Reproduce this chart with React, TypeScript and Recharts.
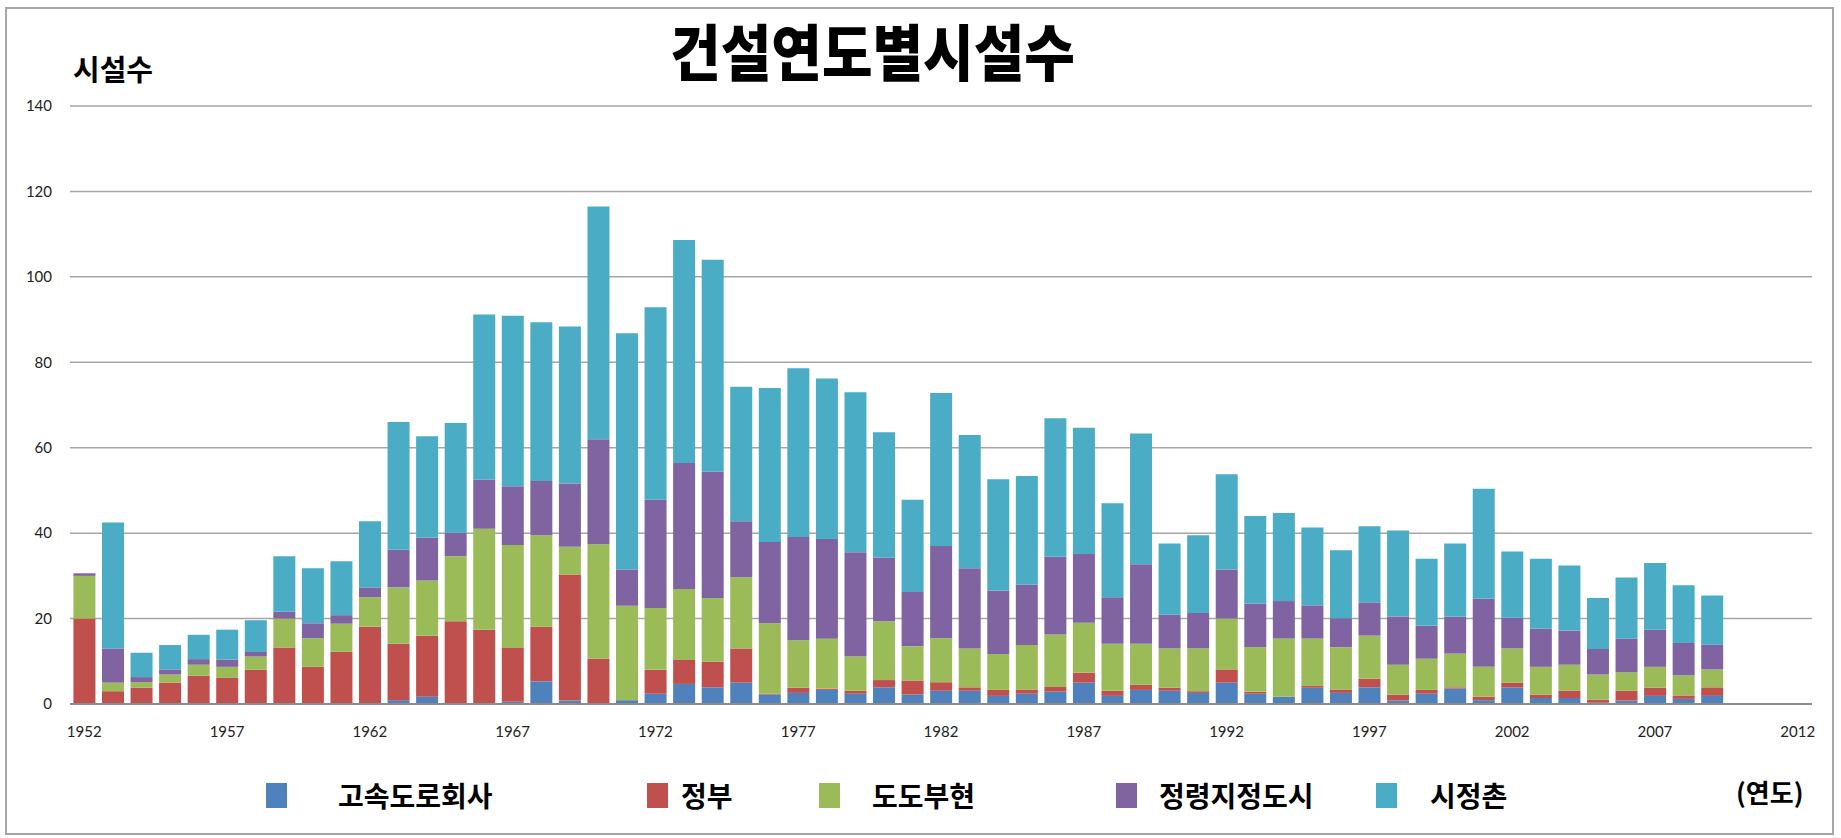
import React from "react";
import { BarChart, Bar, XAxis, YAxis, CartesianGrid } from "recharts";

const years = [
  "1952", "1953", "1954", "1955", "1956", "1957", "1958", "1959", "1960", "1961",
  "1962", "1963", "1964", "1965", "1966", "1967", "1968", "1969", "1970", "1971",
  "1972", "1973", "1974", "1975", "1976", "1977", "1978", "1979", "1980", "1981",
  "1982", "1983", "1984", "1985", "1986", "1987", "1988", "1989", "1990", "1991",
  "1992", "1993", "1994", "1995", "1996", "1997", "1998", "1999", "2000", "2001",
  "2002", "2003", "2004", "2005", "2006", "2007", "2008", "2009", "2010", "2011",
  "2012",
];

// 고속도로회사
const expressway = [
  0, 0, 0, 0, 0, 0, 0, 0, 0, 0,
  0, 0.9, 1.7, 0, 0, 0.5, 5.3, 0.8, 0, 0.9,
  2.4, 4.7, 3.9, 5, 2.2, 2.6, 3.3, 2.4, 3.9, 2.2,
  3.1, 3.1, 1.9, 2.4, 2.9, 5, 1.9, 3.3, 3.1, 2.6,
  5, 2.4, 1.7, 3.8, 2.6, 3.9, 0.8, 2.4, 3.6, 0.9,
  3.9, 1.4, 1.4, 0.3, 0.8, 1.9, 1.2, 1.9,
];
// 정부
const government = [
  20, 3, 3.8, 5, 6.6, 6.1, 8, 13.2, 8.7, 12.2,
  18.1, 13.2, 14.3, 19.4, 17.4, 12.6, 12.8, 29.5, 10.6, 0,
  5.6, 5.6, 6, 8, 0.2, 1.2, 0.3, 0.7, 1.7, 3.3,
  2, 0.8, 1.4, 1, 1.1, 2.3, 1.2, 1.2, 0.7, 0.4,
  3.1, 0.5, 0, 0.4, 0.8, 2, 1.4, 0.9, 0.3, 0.8,
  1.1, 0.8, 1.7, 0.7, 2.3, 1.9, 0.8, 2,
];
// 도도부현
const prefecture = [
  10, 2, 1.3, 1.9, 2.6, 2.6, 3.1, 6.8, 6.7, 6.6,
  6.9, 13.2, 12.9, 15.2, 23.6, 24.1, 21.4, 6.5, 26.8, 22.1,
  14.5, 16.6, 14.9, 16.7, 16.5, 11.1, 11.7, 8, 13.8, 8,
  10.3, 9.1, 8.4, 10.4, 12.3, 11.7, 11, 9.6, 9.2, 10,
  11.9, 10.4, 13.6, 11.1, 9.9, 10.1, 7, 7.3, 7.9, 7,
  8, 6.5, 6.1, 5.9, 4.3, 4.9, 4.7, 4.2,
];
// 정령지정도시
const designatedCity = [
  0.6, 8, 1.2, 1.2, 1.3, 1.7, 1.1, 1.6, 3.5, 2,
  2.3, 8.8, 10, 5.5, 11.5, 13.8, 12.7, 14.8, 24.6, 8.5,
  25.3, 29.5, 29.6, 13.1, 19, 24.2, 23.3, 24.4, 14.9, 12.7,
  21.6, 18.8, 14.9, 14.1, 18.2, 16.1, 10.9, 18.6, 7.9, 8.3,
  11.5, 10.2, 8.8, 7.8, 6.8, 7.8, 11.3, 7.7, 8.6, 16,
  7.2, 8.9, 8, 6, 7.9, 8.7, 7.6, 5.8,
];
// 시정촌
const municipality = [
  0, 29.5, 5.7, 5.7, 5.7, 7, 7.4, 13, 12.9, 12.6,
  15.5, 29.9, 23.8, 25.7, 38.7, 39.9, 37.2, 36.8, 54.5, 55.3,
  45.1, 52.2, 49.6, 31.5, 36.1, 39.5, 37.6, 37.5, 29.3, 21.6,
  35.8, 31.2, 26, 25.5, 32.4, 29.6, 22, 30.6, 16.7, 18.2,
  22.3, 20.5, 20.6, 18.2, 15.9, 17.8, 20.1, 15.7, 17.2, 25.7,
  15.5, 16.4, 15.2, 11.9, 14.3, 15.6, 13.5, 11.5,
];

const yTicks = [0, 20, 40, 60, 80, 100, 120, 140];

const series = [
  { key: "expressway", name: "고속도로회사", color: "#4F81BD", values: expressway },
  { key: "government", name: "정부", color: "#C0504D", values: government },
  { key: "prefecture", name: "도도부현", color: "#9BBB59", values: prefecture },
  { key: "designatedCity", name: "정령지정도시", color: "#8064A2", values: designatedCity },
  { key: "municipality", name: "시정촌", color: "#4BACC6", values: municipality },
];

const data = years.map((year, i) => {
  const row: Record<string, string | number | null> = { year };
  series.forEach((s) => {
    row[s.key] = i < s.values.length ? s.values[i] : null;
  });
  return row;
});

// legend square / text x positions
const legendPos = [
  { box: 266, text: 338 },
  { box: 647, text: 681 },
  { box: 819, text: 872 },
  { box: 1116, text: 1159 },
  { box: 1376, text: 1430 },
];

const KR = '"Noto Sans CJK KR", "Noto Sans", sans-serif';

export default function App() {
  return (
    <div
      style={{
        position: "absolute",
        left: 0,
        top: 0,
        width: 1841,
        height: 838,
        background: "#fff",
        overflow: "hidden",
      }}
    >
      <div
        style={{
          position: "absolute",
          left: 5,
          top: 7,
          width: 1829,
          height: 828,
          border: "2px solid #a6a6a6",
          boxSizing: "border-box",
        }}
      />
      <div
        style={{
          position: "absolute",
          left: 0,
          width: 1745,
          top: 16,
          textAlign: "center",
          fontFamily: KR,
          fontWeight: 900,
          fontSize: 55,
          lineHeight: "66px",
          transform: "scaleY(1.12)",
          color: "#000",
        }}
      >
        건설연도별시설수
      </div>
      <div
        style={{
          position: "absolute",
          left: 73,
          top: 49,
          fontFamily: KR,
          fontWeight: 700,
          fontSize: 29,
          lineHeight: "38px",
          color: "#000",
        }}
      >
        시설수
      </div>

      <BarChart
        width={1841}
        height={838}
        data={data}
        margin={{ top: 106, right: 29, bottom: 104, left: 0 }}
        barCategoryGap="12%"
        style={{ position: "absolute", left: 0, top: 0 }}
      >
        <CartesianGrid vertical={false} stroke="#a6a6a6" strokeWidth={1.5} />
        <XAxis
          dataKey="year"
          interval={4}
          height={30}
          tickLine={false}
          tickSize={6}
          tickMargin={16}
          axisLine={{ stroke: "#8c8c8c", strokeWidth: 2 }}
          tick={{ fill: "#222", fontSize: 15, fontFamily: "Lato, sans-serif" }}
        />
        <YAxis
          width={70}
          domain={[0, 140]}
          ticks={yTicks}
          tickLine={false}
          axisLine={false}
          tickSize={6}
          tickMargin={12}
          tick={{ fill: "#222", fontSize: 15, fontFamily: "Lato, sans-serif" }}
        />
        {series.map((s) => (
          <Bar
            key={s.key}
            dataKey={s.key}
            name={s.name}
            stackId="a"
            fill={s.color}
            isAnimationActive={false}
          />
        ))}
      </BarChart>

      {series.map((s, i) => (
        <React.Fragment key={s.key}>
          <div
            style={{
              position: "absolute",
              left: legendPos[i].box,
              top: 783,
              width: 21,
              height: 25,
              background: s.color,
            }}
          />
          <div
            style={{
              position: "absolute",
              left: legendPos[i].text,
              top: 775,
              fontFamily: KR,
              fontWeight: 700,
              fontSize: 28,
              lineHeight: "40px",
              color: "#000",
              whiteSpace: "nowrap",
            }}
          >
            {s.name}
          </div>
        </React.Fragment>
      ))}
      <div
        style={{
          position: "absolute",
          left: 1736,
          top: 773,
          fontFamily: KR,
          fontWeight: 700,
          fontSize: 26,
          lineHeight: "38px",
          color: "#000",
        }}
      >
        (연도)
      </div>
    </div>
  );
}
